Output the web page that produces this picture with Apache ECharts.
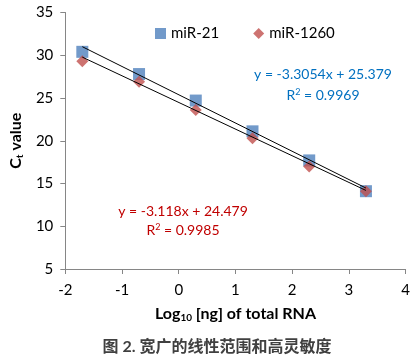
<!DOCTYPE html>
<html><head><meta charset="utf-8">
<script src="https://cdn.jsdelivr.net/npm/echarts@6/dist/echarts.min.js"></script>
<style>html,body{margin:0;padding:0;background:#fff}#c{width:413px;height:360px}</style>
</head><body><div id="c"></div>
<script>
const xValues = [-1.7, -0.7, 0.3, 1.3, 2.3, 3.3];
const mir21 = [30.4, 27.8, 24.7, 21.1, 17.7, 14.1];
const mir1260 = [29.3, 26.9, 23.6, 20.3, 17.0, 14.1];
const trendX = [-1.7, 3.3];
const trend21 = [31.0, 14.47];
const trend1260 = [29.78, 14.19];
const seriesNames = ['miR-21', 'miR-1260'];
const eq21 = ['y = -3.3054x + 25.379', '0.9969'];
const eq1260 = ['y = -3.118x + 24.479', '0.9985'];
const caption = '图 2. 宽广的线性范围和高灵敏度';

const FONT = 'Lato, "Noto Sans CJK SC", sans-serif';
const zip = (xs, ys) => xs.map((x, i) => [x, ys[i]]);
const chart = echarts.init(document.getElementById('c'), null, {renderer: 'canvas'});
chart.setOption({
  animation: false,
  textStyle: {fontFamily: FONT},
  grid: {left: 62, right: 7, top: 12.5, bottom: 91, containLabel: false},
  legend: {
    data: [{name: seriesNames[0], icon: 'rect'}, {name: seriesNames[1], icon: 'diamond'}],
    top: 21, left: 150, itemGap: 34, itemWidth: 11, itemHeight: 11,
    textStyle: {fontFamily: FONT, fontSize: 15, color: '#000'}
  },
  xAxis: {
    type: 'value', min: -2, max: 4, interval: 1,
    axisLine: {onZero: false, lineStyle: {color: '#868686', width: 1}},
    axisTick: {show: true, length: 5, lineStyle: {color: '#868686'}},
    splitLine: {show: false},
    axisLabel: {color: '#000', fontSize: 15, margin: 14, fontFamily: FONT},
    name: 'Log{sub|10} [ng] of total RNA', nameLocation: 'middle', nameGap: 36,
    nameTextStyle: {fontSize: 16, fontWeight: 'bold', color: '#000', fontFamily: FONT,
      rich: {sub: {fontSize: 10, fontWeight: 'bold', verticalAlign: 'bottom', padding: [8,0,0,0], fontFamily: FONT}}}
  },
  yAxis: {
    type: 'value', min: 5, max: 35, interval: 5,
    axisLine: {show: true, onZero: false, lineStyle: {color: '#868686', width: 1}},
    axisTick: {show: true, length: 5, lineStyle: {color: '#868686'}},
    splitLine: {show: false},
    axisLabel: {color: '#000', fontSize: 15, margin: 12, fontFamily: FONT},
    name: 'C{sub|t} value', nameLocation: 'middle', nameGap: 40,
    nameTextStyle: {fontSize: 16, fontWeight: 'bold', color: '#000', fontFamily: FONT,
      rich: {sub: {fontSize: 10, fontWeight: 'bold', verticalAlign: 'bottom', padding: [8,0,0,0], fontFamily: FONT}}}
  },
  series: [
    {name: seriesNames[0], type: 'scatter', symbol: 'rect', symbolSize: 12,
     itemStyle: {color: '#4F81BD'}, data: zip(xValues, mir21), z: 2},
    {name: seriesNames[1], type: 'scatter', symbol: 'diamond', symbolSize: 12,
     itemStyle: {color: '#C0504D'}, data: zip(xValues, mir1260), z: 3},
    {type: 'line', data: zip(trendX, trend21), symbol: 'none', silent: true,
     lineStyle: {color: '#000', width: 1}, z: 4},
    {type: 'line', data: zip(trendX, trend1260), symbol: 'none', silent: true,
     lineStyle: {color: '#000', width: 1}, z: 4}
  ],
  graphic: [
    {type: 'text', x: 323, y: 74, style: {text: eq21[0], align: 'center', verticalAlign: 'middle', fill: '#0070C0', font: '14px ' + FONT}},
    {type: 'text', x: 323, y: 95, style: {text: 'R{sup|2} = ' + eq21[1], align: 'center', verticalAlign: 'middle', fill: '#0070C0', font: '14px ' + FONT,
      rich: {sup: {fontSize: 9, verticalAlign: 'top', padding: [0,0,6,0], fill: '#0070C0', fontFamily: FONT}}}},
    {type: 'text', x: 183, y: 211, style: {text: eq1260[0], align: 'center', verticalAlign: 'middle', fill: '#C00000', font: '14px ' + FONT}},
    {type: 'text', x: 183, y: 230, style: {text: 'R{sup|2} = ' + eq1260[1], align: 'center', verticalAlign: 'middle', fill: '#C00000', font: '14px ' + FONT,
      rich: {sup: {fontSize: 9, verticalAlign: 'top', padding: [0,0,6,0], fill: '#C00000', fontFamily: FONT}}}},
    {type: 'text', x: 217, y: 347, style: {text: caption, align: 'center', verticalAlign: 'middle', fill: '#404040', font: 'bold 16px ' + FONT}}
  ]
});
</script></body></html>
